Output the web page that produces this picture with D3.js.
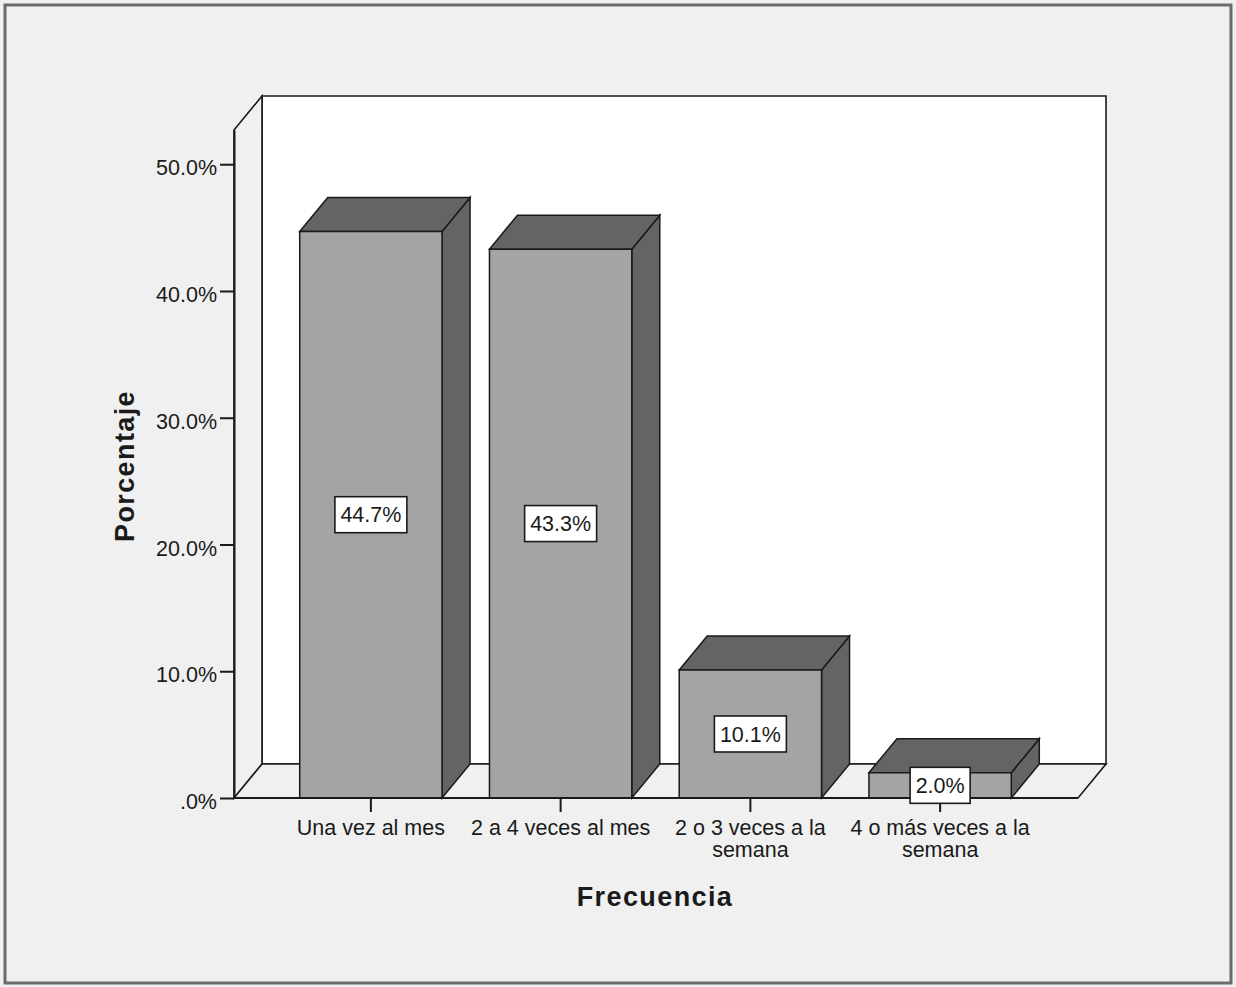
<!DOCTYPE html>
<html>
<head>
<meta charset="utf-8">
<script src="https://cdn.jsdelivr.net/npm/d3@7"></script>
<style>
  html, body { margin: 0; padding: 0; background: #f0f0f0; }
  svg { display: block; }
  text { font-family: "Liberation Sans", Arial, sans-serif; fill: #1a1a1a; }
</style>
</head>
<body>
<svg id="chart" width="1236" height="987"></svg>
<script>
// Frequency categories and their percentage of respondents
const categories = ["Una vez al mes", "2 a 4 veces al mes", "2 o 3 veces a la semana", "4 o más veces a la semana"];
const categoryLines = [["Una vez al mes"], ["2 a 4 veces al mes"], ["2 o 3 veces a la", "semana"], ["4 o más veces a la", "semana"]];
const percentages = [44.7, 43.3, 10.1, 2.0];
const valueLabels = ["44.7%", "43.3%", "10.1%", "2.0%"];
const tickValues = [0, 10, 20, 30, 40, 50];
const tickLabels = [".0%", "10.0%", "20.0%", "30.0%", "40.0%", "50.0%"];
const yTitle = "Porcentaje";
const xTitle = "Frecuencia";

const W = 1236, H = 987;
const svg = d3.select("#chart");

// Oblique depth of the 3D frame and boxes
const depthX = 28, depthY = -34;

const y = d3.scaleLinear().domain([0, 52.7]).range([798, 130]);
const x = d3.scaleBand().domain(categories).range([276, 1035])
  .paddingInner(0.25).paddingOuter(0.125);

const frontLeft = 234, frontRight = 1078;
const yBase = y(0), yTop = y(52.7);
const labelFont = 21.5;

// Outer frame
svg.append("rect").attr("x", 5).attr("y", 5).attr("width", W - 10).attr("height", H - 9)
  .attr("fill", "#f0f0f0").attr("stroke", "#6b6b6b").attr("stroke-width", 3);

function poly(g, pts, fill, sw) {
  return g.append("polygon")
    .attr("points", pts.map(p => p.join(",")).join(" "))
    .attr("fill", fill)
    .attr("stroke", "#1a1a1a")
    .attr("stroke-width", sw || 1.6);
}

const frame = svg.append("g");
// back wall
poly(frame, [
  [frontLeft + depthX, yTop + depthY], [frontRight + depthX, yTop + depthY],
  [frontRight + depthX, yBase + depthY], [frontLeft + depthX, yBase + depthY]
], "#ffffff");
// left wall
poly(frame, [
  [frontLeft, yTop], [frontLeft + depthX, yTop + depthY],
  [frontLeft + depthX, yBase + depthY], [frontLeft, yBase]
], "#f0f0f0");
// floor
poly(frame, [
  [frontLeft, yBase], [frontLeft + depthX, yBase + depthY],
  [frontRight + depthX, yBase + depthY], [frontRight, yBase]
], "#f0f0f0");

// 3D bars
const data = categories.map((c, i) => ({ c, v: percentages[i], label: valueLabels[i] }));
const bw = x.bandwidth();
const bars = svg.append("g");
data.forEach(d => {
  const x0 = x(d.c), x1 = x0 + bw, yt = y(d.v), yb = y(0);
  const g = bars.append("g");
  poly(g, [[x1, yt], [x1 + depthX, yt + depthY], [x1 + depthX, yb + depthY], [x1, yb]], "#646464", 1.5);
  poly(g, [[x0, yt], [x0 + depthX, yt + depthY], [x1 + depthX, yt + depthY], [x1, yt]], "#646464", 1.5);
  poly(g, [[x0, yt], [x1, yt], [x1, yb], [x0, yb]], "#a4a4a4", 1.5);
});

// floor front edge
svg.append("line").attr("x1", frontLeft).attr("x2", frontRight)
  .attr("y1", yBase).attr("y2", yBase)
  .attr("stroke", "#1a1a1a").attr("stroke-width", 2);

// Y axis
const yAxis = d3.axisLeft(y).tickValues(tickValues)
  .tickFormat((d, i) => tickLabels[i]).tickSize(14).tickSizeOuter(0).tickPadding(3);
const yg = svg.append("g").attr("transform", `translate(${frontLeft},0)`).call(yAxis);
yg.select(".domain").attr("stroke", "#1a1a1a").attr("stroke-width", 2);
yg.selectAll(".tick line").attr("stroke", "#1a1a1a").attr("stroke-width", 2);
yg.selectAll(".tick text").attr("font-size", labelFont).attr("font-family", "Liberation Sans, Arial, sans-serif")
  .attr("fill", "#1a1a1a").attr("dy", "0.5em");

// X axis
const xAxis = d3.axisBottom(x).tickSize(14).tickSizeOuter(0).tickFormat(() => "");
const xg = svg.append("g").attr("transform", `translate(0,${yBase})`).call(xAxis);
xg.select(".domain").remove();
xg.selectAll(".tick line").attr("stroke", "#1a1a1a").attr("stroke-width", 2);
xg.selectAll(".tick").each(function (d, i) {
  const t = d3.select(this).append("text")
    .attr("text-anchor", "middle").attr("font-size", labelFont)
    .attr("font-family", "Liberation Sans, Arial, sans-serif").attr("fill", "#1a1a1a");
  categoryLines[i].forEach((line, j) => {
    t.append("tspan").attr("x", 0).attr("y", 37 + j * 21.5).text(line);
  });
});

// Value labels in boxes
const labels = svg.append("g");
data.forEach(d => {
  const cx = x(d.c) + bw / 2, cy = (y(d.v) + y(0)) / 2;
  const g = labels.append("g").attr("transform", `translate(${cx},${cy})`);
  const t = g.append("text").attr("text-anchor", "middle").attr("dy", "0.36em")
    .attr("font-size", labelFont).text(d.label);
  const bb = t.node().getBBox();
  g.insert("rect", "text")
    .attr("x", bb.x - 5.5).attr("y", -18).attr("width", bb.width + 11).attr("height", 36)
    .attr("fill", "#ffffff").attr("stroke", "#1a1a1a").attr("stroke-width", 1.6);
});

// Axis titles
svg.append("text").attr("x", 655).attr("y", 906).attr("text-anchor", "middle")
  .attr("font-size", 27).attr("font-weight", "bold").attr("letter-spacing", 1.4)
  .attr("fill", "#111").text(xTitle);
svg.append("text").attr("transform", "translate(134,466) rotate(-90)").attr("text-anchor", "middle")
  .attr("font-size", 27).attr("font-weight", "bold").attr("letter-spacing", 1.4)
  .attr("fill", "#111").text(yTitle);
</script>
</body>
</html>
